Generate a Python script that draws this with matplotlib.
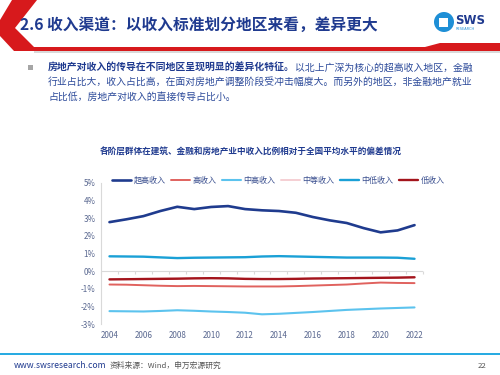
import matplotlib
matplotlib.use("Agg")
import matplotlib.pyplot as plt
from matplotlib.patches import Polygon, Circle, Rectangle

plt.rcParams['font.family'] = ['Noto Sans CJK SC', 'DejaVu Sans']

NAVY = '#1f3a8f'

years = list(range(2004, 2023))
series_names = ['超高收入', '高收入', '中高收入', '中等收入', '中低收入', '低收入']
super_high = [2.78, 2.94, 3.12, 3.41, 3.65, 3.52, 3.64, 3.69, 3.52, 3.45,
              3.41, 3.31, 3.07, 2.88, 2.73, 2.44, 2.20, 2.31, 2.61]
high = [-0.76, -0.77, -0.80, -0.83, -0.85, -0.84, -0.85, -0.86, -0.87, -0.87,
        -0.87, -0.85, -0.82, -0.79, -0.76, -0.70, -0.65, -0.67, -0.68]
upper_mid = [-2.27, -2.28, -2.29, -2.26, -2.22, -2.25, -2.29, -2.32, -2.36, -2.45,
             -2.42, -2.37, -2.32, -2.26, -2.20, -2.16, -2.12, -2.09, -2.06]
middle = [-0.45, -0.44, -0.43, -0.42, -0.41, -0.40, -0.40, -0.41, -0.43, -0.44,
          -0.44, -0.43, -0.41, -0.40, -0.39, -0.38, -0.37, -0.36, -0.34]
mid_low = [0.84, 0.83, 0.82, 0.78, 0.74, 0.76, 0.77, 0.78, 0.79, 0.83,
           0.85, 0.83, 0.81, 0.79, 0.77, 0.77, 0.77, 0.76, 0.70]
low = [-0.47, -0.46, -0.45, -0.44, -0.43, -0.41, -0.40, -0.41, -0.44, -0.45,
       -0.45, -0.44, -0.42, -0.41, -0.40, -0.39, -0.38, -0.37, -0.35]
yticks = [-3, -2, -1, 0, 1, 2, 3, 4, 5]
xticks = list(range(2004, 2023, 2))

series = [super_high, high, upper_mid, middle, mid_low, low]
colors = ['#1f3b8e', '#e0625e', '#5cc3ee', '#f5cfd3', '#1aa0d6', '#a3141c']
widths = [1.9, 1.4, 1.5, 1.4, 1.7, 1.7]
zorders = [5, 4, 4, 3, 4, 5]

fig = plt.figure(figsize=(5, 3.75), dpi=100)

# slide decoration layer, pixel coordinates
bg = fig.add_axes([0, 0, 1, 1], zorder=-1)
bg.set_xlim(0, 500)
bg.set_ylim(375, 0)
bg.axis('off')
bg.add_patch(Polygon([(12, 0), (37, 0), (15, 28), (38, 51), (14, 51), (0, 36), (0, 20)],
                     closed=True, color='#d7191c', lw=0))
bg.add_patch(Polygon([(30, 47), (425, 47), (440, 43), (500, 43), (500, 51), (34, 51)],
                     closed=True, color='#d7191c', lw=0))
bg.add_patch(Rectangle((34, 51), 466, 1.5, color='#d9d9d9', lw=0))
bg.add_patch(Circle((444, 22), 10, color='#1e8fd6', lw=0))
bg.add_patch(Rectangle((439, 17.5), 9, 9, color='white', lw=0))
bg.text(455, 20, 'SWS', fontsize=8.5, fontweight='bold', color=NAVY,
        va='center', ha='left', family='DejaVu Sans')
bg.text(456, 28.5, 'RESEARCH', fontsize=2.5, color='#1e8fd6', va='center', ha='left',
        family='DejaVu Sans')
bg.text(20, 25, '2.6 收入渠道：以收入标准划分地区来看，差异更大', fontsize=11.3,
        fontweight='bold', color=NAVY, va='center', ha='left')

bg.add_patch(Rectangle((28, 65), 5, 5, color='#a6a6a6', lw=0))
t1 = bg.text(48, 68, '房地产对收入的传导在不同地区呈现明显的差异化特征。', fontsize=7.1,
             fontweight='bold', color=NAVY, va='center', ha='left')
bg.annotate('以北上广深为核心的超高收入地区，金融', xy=(1, 0.5), xycoords=t1,
            fontsize=7.1, color='#2c4a9a', va='center', ha='left')
bg.text(48, 82, '行业占比大，收入占比高，在面对房地产调整阶段受冲击幅度大。而另外的地区，非金融地产就业',
        fontsize=7.1, color='#2c4a9a', va='center', ha='left')
bg.text(48, 97, '占比低，房地产对收入的直接传导占比小。', fontsize=7.1,
        color='#2c4a9a', va='center', ha='left')

bg.text(251, 152, '各阶层群体在建筑、金融和房地产业中收入比例相对于全国平均水平的偏差情况',
        fontsize=6.2, fontweight='bold', color=NAVY, va='center', ha='center')

bg.add_patch(Rectangle((0, 353), 500, 1.5, color='#29abe2', lw=0))
bg.text(14, 366, 'www.swsresearch.com', fontsize=6.2, color=NAVY, va='center', ha='left')
bg.text(110, 366, '资料来源：Wind，申万宏源研究', fontsize=5.6, color='#555555',
        va='center', ha='left')
bg.text(482, 366, '22', fontsize=5.6, color='#555555', va='center', ha='center')

# chart
ax = fig.add_axes([0.202, 0.136, 0.644, 0.376])
for name, vals, c, lw, z in zip(series_names, series, colors, widths, zorders):
    ax.plot(years, vals, color=c, lw=lw, label=name, zorder=z, solid_capstyle='round')

ax.set_xlim(2003.5, 2022.5)
ax.set_ylim(-3, 5)
ax.set_yticks(yticks)
ax.set_yticklabels([f'{v}%' for v in yticks])
ax.set_xticks(xticks)
ax.set_xticklabels([str(x) for x in xticks])
ax.tick_params(axis='both', length=0, labelsize=5.8, labelcolor='#5a6890')
ax.tick_params(axis='x', pad=5)
ax.tick_params(axis='y', pad=4)
for s in ['top', 'right', 'bottom']:
    ax.spines[s].set_visible(False)
ax.spines['left'].set_color('#d9d9d9')
ax.spines['left'].set_linewidth(0.8)
ax.axhline(0, color='#d9d9d9', lw=0.8, zorder=1)
zero_axis = ax.secondary_xaxis(3 / 8)
zero_axis.set_xticks([y + 0.5 for y in [2003] + years])
zero_axis.tick_params(length=2, color='#d9d9d9', labelbottom=False, labeltop=False,
                      direction='out')
zero_axis.spines['bottom'].set_visible(False)
zero_axis.spines['top'].set_visible(False)

ax.legend(loc='lower center', bbox_to_anchor=(0.55, 0.965), ncol=6, frameon=False,
          fontsize=5.8, handlelength=2.4, handletextpad=0.3, columnspacing=0.65,
          labelcolor='#3a4f8f', borderaxespad=0)

fig.savefig('out.png', dpi=100)
